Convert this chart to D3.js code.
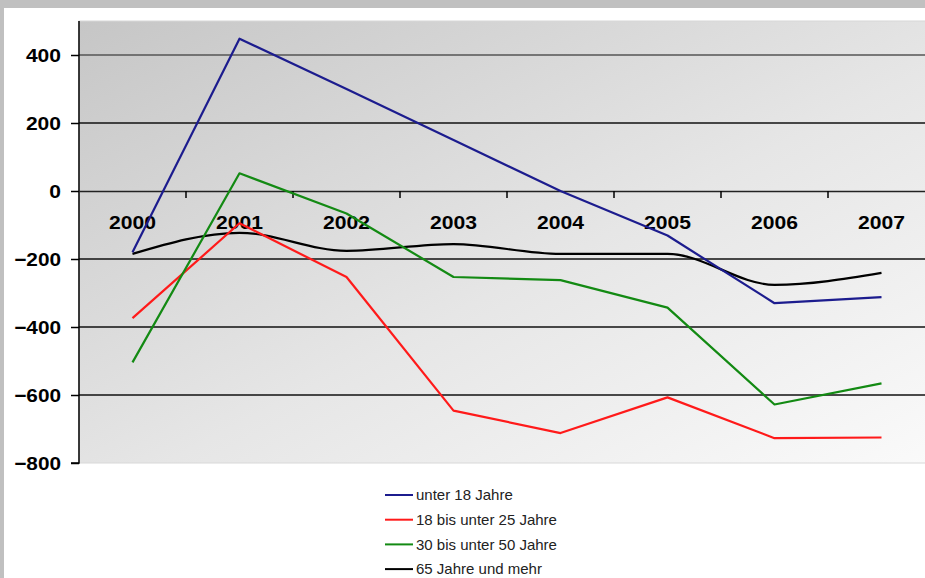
<!DOCTYPE html>
<html><head><meta charset="utf-8">
<script src="https://cdn.jsdelivr.net/npm/d3@7"></script>
<style>html,body{margin:0;padding:0;background:#c0c0c0;overflow:hidden}</style>
</head><body>
<script>
const years = ["2000","2001","2002","2003","2004","2005","2006","2007"];
const seriesNames = ["unter 18 Jahre","18 bis unter 25 Jahre","30 bis unter 50 Jahre","65 Jahre und mehr"];
const unter18 = [-180, 448, 300, 150, 0, -131, -330, -312];
const bis25 = [-374, -95, -253, -646, -712, -607, -727, -725];
const bis50 = [-504, 52, -66, -253, -262, -343, -628, -566];
const ab65 = [-185, -123, -176, -156, -185, -185, -276, -241];
const yTicks = [400, 200, 0, -200, -400, -600, -800];
const colors = ["#1c1c8e", "#ff1a1a", "#138a13", "#000000"];

const W = 925, H = 578;
const svg = d3.select("body").append("svg").attr("width", W).attr("height", H);
svg.append("rect").attr("x",4).attr("y",8).attr("width",W-4).attr("height",H-8).attr("fill","#ffffff");

const L = 79, T = 21, R = 935, B = 463;
const defs = svg.append("defs");
const g = defs.append("linearGradient").attr("id","bg").attr("x1","0").attr("y1","0").attr("x2","1").attr("y2","1");
g.append("stop").attr("offset","0").attr("stop-color","#c6c6c6");
g.append("stop").attr("offset","0.55").attr("stop-color","#e6e6e6");
g.append("stop").attr("offset","1").attr("stop-color","#fafafa");

const x = d3.scaleBand().domain(years).range([L, R]);
const y = d3.scaleLinear().domain([-800, 500]).range([B, T]);

svg.append("rect").attr("x",L).attr("y",T).attr("width",R-L).attr("height",B-T).attr("fill","url(#bg)").attr("stroke","#d8d8d8");

// gridlines
svg.append("g").selectAll("line").data(yTicks.filter(v => v !== -800 && v !== 0)).join("line")
  .attr("x1",L).attr("x2",R).attr("y1",d=>y(d)).attr("y2",d=>y(d))
  .attr("stroke", d => d === 400 ? "#555" : "#111").attr("stroke-width",1.5);

// y axis
const yAxis = d3.axisLeft(y).tickValues(yTicks).tickSize(8).tickPadding(10).tickFormat(d3.format("d"));
const ya = svg.append("g").attr("transform",`translate(${L},0)`).call(yAxis);
ya.select(".domain").attr("stroke","#000").attr("stroke-width",1.5).attr("d",`M-8,${y(-800)}H0V${T}`);
ya.selectAll(".tick line").attr("stroke","#000").attr("stroke-width",1.5);
ya.selectAll(".tick text").attr("font-family","Liberation Sans, Arial, sans-serif").attr("font-weight","bold").attr("font-size","19px").attr("fill","#000").attr("textLength", d => String(d).length * 11.7).attr("lengthAdjust","spacingAndGlyphs");

// x axis at zero
const xAxis = d3.axisBottom(x).tickSize(0).tickPadding(0);
const xa = svg.append("g").attr("transform",`translate(0,${y(0)})`).call(xAxis);
xa.select(".domain").attr("stroke","#222").attr("stroke-width",1.5);
xa.selectAll(".tick text").attr("dy","38px").attr("font-family","Liberation Sans, Arial, sans-serif").attr("font-weight","bold").attr("font-size","19px").attr("fill","#000").attr("textLength",47).attr("lengthAdjust","spacingAndGlyphs");
// boundary ticks
svg.append("g").selectAll("line").data(years.slice(1)).join("line")
  .attr("x1",d=>x(d)).attr("x2",d=>x(d)).attr("y1",y(0)).attr("y2",y(0)+7)
  .attr("stroke","#000").attr("stroke-width",1.5);

const allSeries = [unter18, bis25, bis50, ab65];
const lineLin = d3.line().x((d,i)=>x(years[i]) + x.bandwidth()/2).y(d=>y(d));
const lineSmooth = d3.line().x((d,i)=>x(years[i]) + x.bandwidth()/2).y(d=>y(d)).curve(d3.curveMonotoneX);
const order = [3, 0, 1, 2];
order.forEach(k => {
  svg.append("path").attr("d", (k === 3 ? lineSmooth : lineLin)(allSeries[k]))
    .attr("fill","none").attr("stroke",colors[k]).attr("stroke-width",2.2).attr("stroke-linejoin","round");
});

// legend
const leg = svg.append("g");
seriesNames.forEach((n,i) => {
  const yy = 495 + i*24.7;
  leg.append("line").attr("x1",385).attr("x2",413).attr("y1",yy).attr("y2",yy).attr("stroke",colors[i]).attr("stroke-width",2);
  leg.append("text").attr("x",416).attr("y",yy).attr("dy","0.35em").text(n)
    .attr("font-family","Liberation Sans, Arial, sans-serif").attr("font-size","15px").attr("fill","#222");
});
</script>
</body></html>
